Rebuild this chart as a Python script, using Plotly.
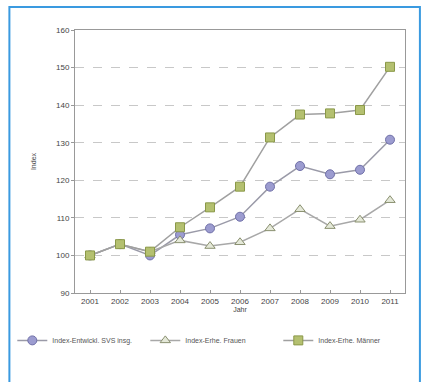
import plotly.graph_objects as go

years = list(range(2001, 2012))
svs = [100, 103, 100, 105.5, 107.2, 110.3, 118.3, 123.8, 121.6, 122.8, 130.8]
frauen = [100, 103, 101, 104, 102.5, 103.5, 107.2, 112.3, 107.8, 109.5, 114.7]
maenner = [100, 103, 101, 107.5, 112.8, 118.3, 131.4, 137.5, 137.8, 138.7, 150.2]
names = ["Index-Entwickl. SVS insg.", "Index-Erhe. Frauen", "Index-Erhe. Männer"]

fig = go.Figure()
fig.add_trace(go.Scatter(x=years, y=svs, name=names[0], mode="lines+markers",
    line=dict(color="#9a9aa8", width=1.5),
    marker=dict(symbol="circle", size=9, color="#9c9cd0", line=dict(color="#7070a8", width=1))))
fig.add_trace(go.Scatter(x=years, y=frauen, name=names[1], mode="lines+markers",
    line=dict(color="#a8a8a8", width=1.5),
    marker=dict(symbol="triangle-up", size=9, color="#e4e8d8", line=dict(color="#8a9070", width=1))))
fig.add_trace(go.Scatter(x=years, y=maenner, name=names[2], mode="lines+markers",
    line=dict(color="#a0a0a0", width=1.5),
    marker=dict(symbol="square", size=9, color="#b4c070", line=dict(color="#8a9848", width=1))))

fig.update_layout(
    width=421, height=382,
    paper_bgcolor="white", plot_bgcolor="white",
    margin=dict(l=73, r=16, t=30, b=89),
    font=dict(family="Liberation Sans, Arial", size=8, color="#444"),
    xaxis=dict(range=[2000.5, 2011.5], tickmode="array", tickvals=years,
               ticktext=[str(y) for y in years], showgrid=False,
               showline=True, linecolor="#999", linewidth=1, mirror=True,
               ticks="inside", ticklen=3, tickcolor="#999",
               title=dict(text="Jahr", font=dict(size=7), standoff=2),
               zeroline=False, tickfont=dict(size=8)),
    yaxis=dict(range=[90, 160], tickvals=list(range(90, 161, 10)),
               showgrid=True, gridcolor="#c8c8c8", griddash="dash", gridwidth=1,
               showline=True, linecolor="#999", linewidth=1, mirror=True,
               ticks="outside", ticklen=3, tickcolor="#999",
               title=dict(text="Index", font=dict(size=7), standoff=18),
               zeroline=False, tickfont=dict(size=8)),
    legend=dict(orientation="h", x=-0.19, y=-0.125, xanchor="left", yanchor="top",
                font=dict(size=7, color="#555"), itemwidth=30, traceorder="normal",
                entrywidth=88, entrywidthmode="pixels", tracegroupgap=0),
    showlegend=True,
    shapes=[dict(type="rect", xref="paper", yref="paper",
                 x0=-66/332, x1=1 + 15/332, y0=-0.6, y1=1 + 23/263,
                 line=dict(color="#3a9ae0", width=2), layer="below")]
)

fig.write_html("out.html")
